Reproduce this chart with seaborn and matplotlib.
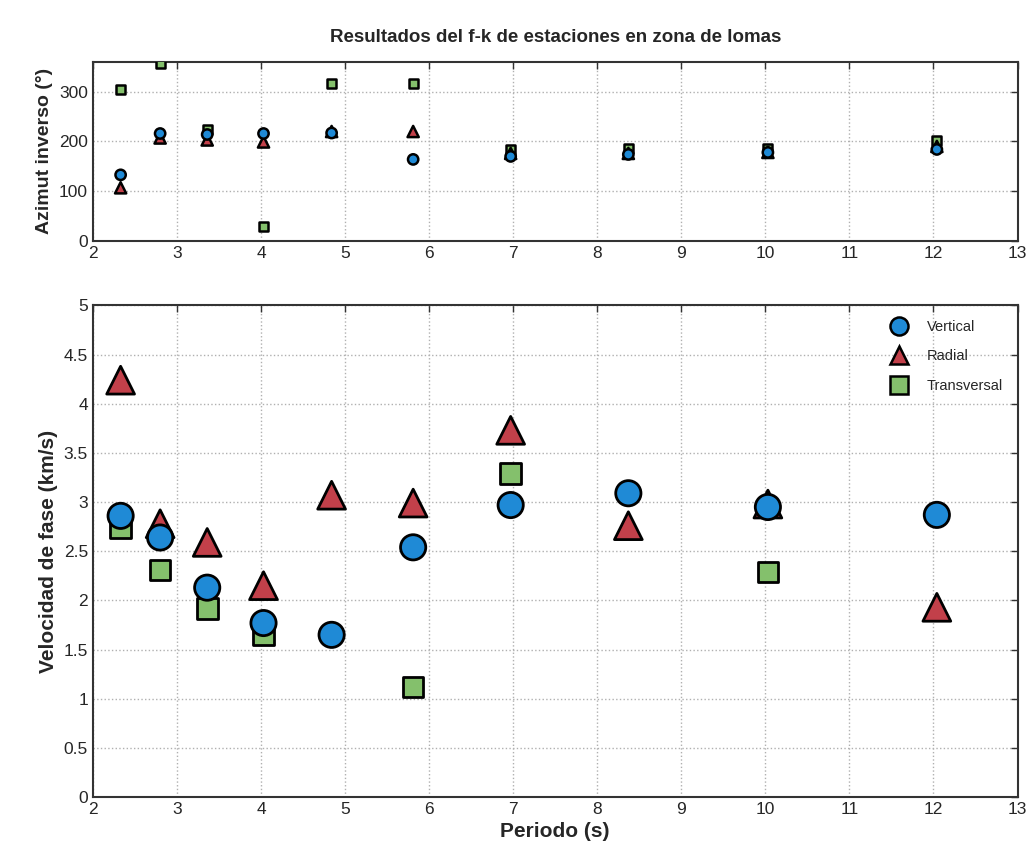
import numpy as np
import pandas as pd
import matplotlib
matplotlib.use('Agg')
import matplotlib.pyplot as plt
from matplotlib.lines import Line2D
from matplotlib.ticker import FuncFormatter
import seaborn as sns

# Datos (f-k, zona de lomas)
periodo = [2.33, 2.80, 3.36, 4.03, 4.84, 5.81, 6.97, 8.37, 10.03, 12.04]

vel_vertical = [2.86, 2.64, 2.13, 1.77, 1.65, 2.54, 2.97, 3.09, 2.95, 2.87]
vel_radial = [4.24, 2.78, 2.59, 2.15, 3.07, 2.99, 3.73, 2.76, 2.98, 1.93]
# sin dato visible en 4.84, 8.37 y 12.04
vel_transversal = [2.74, 2.31, 1.92, 1.65, np.nan, 1.12, 3.29, np.nan, 2.29, np.nan]

az_vertical = [133, 216, 214, 216, 217, 164, 170, 174, 178, 184]
az_radial = [107, 207, 203, 199, 220, 220, 176, 176, 178, 190]
az_transversal = [304, 357, 224, 30, 317, 317, 184, 186, 187, 202]

componentes = ['Vertical', 'Radial', 'Transversal']
colores = {'Vertical': '#1f8ad6', 'Radial': '#c2404a', 'Transversal': '#84c06c'}
marcadores = {'Vertical': 'o', 'Radial': '^', 'Transversal': 's'}
tam_sup = {'Vertical': 55, 'Radial': 65, 'Transversal': 40}
tam_inf = {'Vertical': 330, 'Radial': 400, 'Transversal': 220}

# tabla larga; transversal primero para que quede debajo al dibujar
orden_dibujo = ['Transversal', 'Radial', 'Vertical']
vel = {'Vertical': vel_vertical, 'Radial': vel_radial, 'Transversal': vel_transversal}
az = {'Vertical': az_vertical, 'Radial': az_radial, 'Transversal': az_transversal}
df = pd.concat([
    pd.DataFrame({'periodo': periodo, 'velocidad': vel[c], 'azimut': az[c], 'componente': c})
    for c in orden_dibujo
], ignore_index=True)

sns.set_style('white')
plt.rcParams['font.family'] = ['Liberation Sans', 'DejaVu Sans']

fig = plt.figure(figsize=(10.32, 8.58), dpi=100)
ax_top = fig.add_axes([0.090, 0.719, 0.896, 0.209])
ax_bot = fig.add_axes([0.090, 0.071, 0.896, 0.573])

# panel superior: azimut inverso
sns.scatterplot(data=df, x='periodo', y='azimut', hue='componente', style='componente',
                size='componente', sizes=tam_sup,
                hue_order=componentes, style_order=componentes,
                palette=colores, markers=marcadores, edgecolor='black',
                linewidth=1.8, legend=False, ax=ax_top, zorder=3)

# panel inferior: velocidad de fase
sns.scatterplot(data=df.dropna(subset=['velocidad']), x='periodo', y='velocidad',
                hue='componente', style='componente',
                size='componente', sizes=tam_inf,
                hue_order=componentes, style_order=componentes,
                palette=colores, markers=marcadores, edgecolor='black',
                linewidth=2.0, legend=False, ax=ax_bot, zorder=3)

fmt = FuncFormatter(lambda v, p: '%g' % v)
for ax in (ax_top, ax_bot):
    ax.set_xlim(2, 13)
    ax.set_xticks(range(2, 14))
    ax.xaxis.set_major_formatter(fmt)
    ax.grid(True, linestyle=':', color='#b0b0b0', linewidth=1.0)
    ax.tick_params(direction='in', length=5, width=1.0, labelsize=12.5,
                   top=True, right=True, color='#333333')
    for sp in ax.spines.values():
        sp.set_color('#333333')
        sp.set_linewidth(1.5)
    ax.set_axisbelow(True)

ax_top.set_ylim(0, 360)
ax_top.set_yticks([0, 100, 200, 300])
ax_top.set_xlabel('')
ax_top.set_ylabel('Azimut inverso (°)', fontsize=14, fontweight='bold')
ax_top.set_title('Resultados del f-k de estaciones en zona de lomas',
                 fontsize=13.5, fontweight='bold', pad=14)

ax_bot.set_ylim(0, 5)
ax_bot.set_yticks(np.arange(0, 5.01, 0.5))
ax_bot.yaxis.set_major_formatter(fmt)
ax_bot.set_xlabel('Periodo (s)', fontsize=15, fontweight='bold')
ax_bot.set_ylabel('Velocidad de fase (km/s)', fontsize=15, fontweight='bold')

handles = [Line2D([], [], linestyle='none', marker=marcadores[c], markersize=13,
                  markerfacecolor=colores[c], markeredgecolor='black', markeredgewidth=1.8)
           for c in componentes]
ax_bot.legend(handles, componentes, loc='upper right', frameon=False, fontsize=10.5,
              handletextpad=0.9, labelspacing=1.05, borderaxespad=0.6)

plt.savefig('out.png', dpi=100)
